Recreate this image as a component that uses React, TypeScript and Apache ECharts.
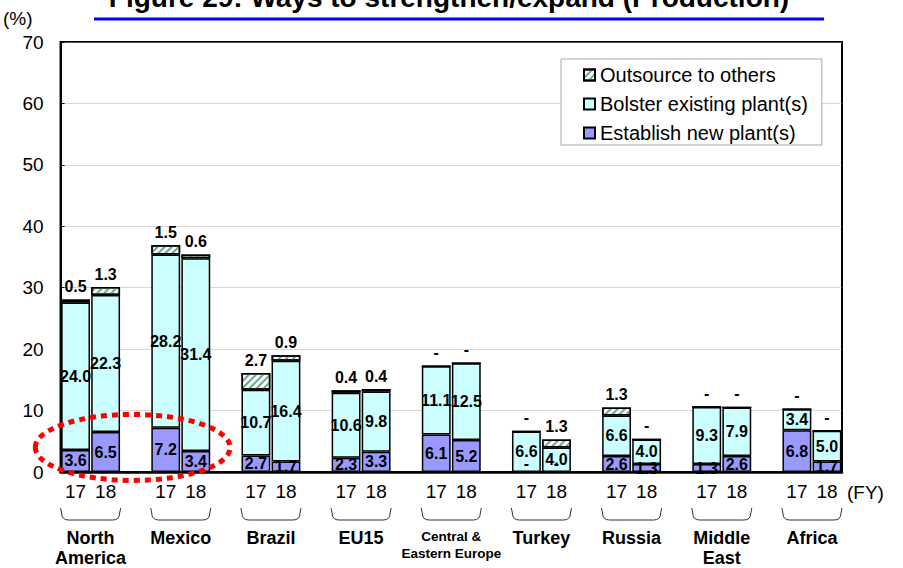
import React, { useEffect, useRef } from "react";
import * as echarts from "echarts";

// Regions (display labels may wrap onto two lines)
const regions = [
  "North America",
  "Mexico",
  "Brazil",
  "EU15",
  "Central & Eastern Europe",
  "Turkey",
  "Russia",
  "Middle East",
  "Africa",
];
const regionLabels = [
  "North\nAmerica",
  "Mexico",
  "Brazil",
  "EU15",
  "Central &\nEastern Europe",
  "Turkey",
  "Russia",
  "Middle\nEast",
  "Africa",
];
const fiscalYears = ["17", "18"];

// Shares (%) by measure, FY17 and FY18
const establish17 = [3.6, 7.2, 2.7, 2.3, 6.1, 0, 2.6, 1.3, 6.8];
const establish18 = [6.5, 3.4, 1.7, 3.3, 5.2, 0, 1.3, 2.6, 1.7];
const bolster17 = [24.0, 28.2, 10.7, 10.6, 11.1, 6.6, 6.6, 9.3, 3.4];
const bolster18 = [22.3, 31.4, 16.4, 9.8, 12.5, 4.0, 4.0, 7.9, 5.0];
const outsource17 = [0.5, 1.5, 2.7, 0.4, 0, 0, 1.3, 0, 0];
const outsource18 = [1.3, 0.6, 0.9, 0.4, 0, 1.3, 0, 0, 0];

const seriesNames = [
  "Establish new plant(s)",
  "Bolster existing plant(s)",
  "Outsource to others",
];

const FONT = "Liberation Sans, Arial, sans-serif";

// Each region takes two bar slots (FY17, FY18) followed by an empty spacer slot
const slotCategories: string[] = [];
regions.forEach((_, i) => {
  slotCategories.push(fiscalYears[0], fiscalYears[1]);
  if (i < regions.length - 1) slotCategories.push("");
});

// Region names sit on slot boundaries (centre of each pair)
const regionAxisData: string[] = [];
for (let j = 0; j <= slotCategories.length; j++) regionAxisData.push("");
regions.forEach((_, i) => {
  regionAxisData[3 * i + 1] = regionLabels[i];
});

function toSlots(v17: number[], v18: number[], zeroPos: string) {
  const out: any[] = [];
  regions.forEach((_, i) => {
    [v17[i], v18[i]].forEach((v) => {
      if (v === 0) {
        out.push({ value: 0, label: { position: "top", distance: zeroPos === "top" ? 5 : 0 } });
      } else {
        out.push(v);
      }
    });
    if (i < regions.length - 1) out.push(null);
  });
  return out;
}

const fmt = (p: any) => (p.value === 0 ? "-" : Number(p.value).toFixed(1));

const barLabel = {
  show: true,
  formatter: fmt,
  color: "#000",
  fontFamily: FONT,
  fontWeight: "bold",
  fontSize: 16,
};

export default function App() {
  const ref = useRef<HTMLDivElement>(null);

  useEffect(() => {
    const Bracket = echarts.graphic.extendShape({
      shape: { x1: 0, x2: 0, y1: 0, y2: 0, r: 7 },
      buildPath(ctx: any, s: any) {
        ctx.moveTo(s.x1 - 1, s.y1);
        ctx.lineTo(s.x1, s.y2 - s.r);
        ctx.quadraticCurveTo(s.x1, s.y2, s.x1 + s.r, s.y2);
        ctx.lineTo(s.x2 - s.r, s.y2);
        ctx.quadraticCurveTo(s.x2, s.y2, s.x2, s.y2 - s.r);
        ctx.lineTo(s.x2 + 1, s.y1);
      },
    });
    echarts.graphic.registerShape("bracket", Bracket);

    const chart = echarts.init(ref.current!, null, { renderer: "svg" });
    const option: any = {
      animation: false,
      textStyle: { fontFamily: FONT },
      grid: {
        left: 59,
        right: 61,
        top: 42,
        bottom: 96,
        show: true,
        borderColor: "#000",
        borderWidth: 2,
      },
      legend: {
        orient: "vertical",
        left: 561,
        top: 59,
        padding: [6, 14, 2, 22],
        itemGap: 9,
        itemWidth: 11,
        itemHeight: 11,
        icon: "rect",
        backgroundColor: "#fff",
        borderColor: "#aaa",
        borderWidth: 1,
        data: [seriesNames[2], seriesNames[1], seriesNames[0]],
        textStyle: { fontSize: 20, color: "#000", fontFamily: FONT },
      },
      xAxis: [
        {
          type: "category",
          data: slotCategories,
          axisLine: { lineStyle: { color: "#000", width: 2.5 } },
          axisTick: { show: false },
          axisLabel: {
            interval: 0,
            margin: 10,
            fontSize: 19,
            color: "#000",
            fontFamily: FONT,
          },
          name: "(FY)",
          nameLocation: "end",
          nameGap: 5,
          nameTextStyle: {
            fontSize: 19,
            color: "#000",
            fontFamily: FONT,
            verticalAlign: "top",
            padding: [11, 0, 0, 0],
          },
        },
        {
          type: "category",
          position: "bottom",
          boundaryGap: false,
          data: regionAxisData,
          axisLine: { show: false },
          axisTick: { show: false },
          splitLine: { show: false },
          axisLabel: {
            interval: 0,
            margin: 56,
            color: "#000",
            fontFamily: FONT,
            formatter: (v: string) => {
              if (!v) return "";
              const tag = v.startsWith("Central") ? "s" : "b";
              return v
                .split("\n")
                .map((l) => `{${tag}|${l}}`)
                .join("\n");
            },
            rich: {
              b: { fontSize: 18, fontWeight: "bold", lineHeight: 20, fontFamily: FONT, color: "#000" },
              s: { fontSize: 13.5, fontWeight: "bold", lineHeight: 17, fontFamily: FONT, color: "#000" },
            },
          },
        },
      ],
      yAxis: {
        type: "value",
        min: 0,
        max: 70,
        interval: 10,
        name: "(%)",
        nameLocation: "end",
        nameGap: 14,
        nameTextStyle: {
          fontSize: 19,
          color: "#000",
          fontFamily: FONT,
          align: "right",
          padding: [0, 28, 0, 0],
        },
        axisLine: { show: true, lineStyle: { color: "#000", width: 2 } },
        axisTick: { show: true, inside: true, length: 4, lineStyle: { color: "#000" } },
        axisLabel: { fontSize: 19, color: "#000", margin: 17, fontFamily: FONT },
        splitLine: { lineStyle: { color: "#b0b0b0", type: "dotted", width: 1 } },
      },
      series: [
        {
          name: seriesNames[0],
          type: "bar",
          stack: "total",
          barCategoryGap: "4%",
          data: toSlots(establish17, establish18, "base"),
          itemStyle: { color: "#9999ff", borderColor: "#000", borderWidth: 1.5 },
          label: { ...barLabel, position: "inside" },
        },
        {
          name: seriesNames[1],
          type: "bar",
          stack: "total",
          data: toSlots(bolster17, bolster18, "base"),
          itemStyle: { color: "#ccffff", borderColor: "#000", borderWidth: 1.5 },
          label: { ...barLabel, position: "inside" },
        },
        {
          name: seriesNames[2],
          type: "bar",
          stack: "total",
          data: toSlots(outsource17, outsource18, "top"),
          itemStyle: {
            color: "#ffffff",
            borderColor: "#000",
            borderWidth: 1.5,
            decal: {
              symbol: "rect",
              symbolSize: 1,
              color: "#6aa888",
              dashArrayX: [1, 0],
              dashArrayY: [1.5, 3],
              rotation: -Math.PI / 4,
            },
          },
          label: { ...barLabel, position: "top", distance: 5 },
        },
      ],
    };
    chart.setOption(option);

    // Annotations placed through the chart's own axes
    const px = (i: number) => chart.convertToPixel({ xAxisIndex: 0 }, i) as number;
    const py = (v: number) => chart.convertToPixel({ yAxisIndex: 0 }, v) as number;
    const catW = px(1) - px(0);

    const graphics: any[] = [
      {
        type: "text",
        style: {
          text: "Figure 29: Ways to strengthen/expand (Production)",
          x: 449,
          y: 11,
          align: "center",
          verticalAlign: "bottom",
          font: `bold 28px ${FONT}`,
          fill: "#000",
        },
      },
      {
        type: "line",
        shape: { x1: 94, y1: 19, x2: 824, y2: 19 },
        style: { stroke: "#0000ff", lineWidth: 3 },
      },
    ];
    regions.forEach((_, i) => {
      const a = px(3 * i) - catW / 2;
      const b = px(3 * i + 1) + catW / 2;
      graphics.push({
        type: "bracket",
        shape: { x1: a + 1, x2: b - 1, y1: 508, y2: 520, r: 7 },
        style: { stroke: "#333", fill: null, lineWidth: 1 },
      });
    });
    graphics.push({
      type: "ellipse",
      shape: { cx: px(2) - 0.1 * catW, cy: py(4), rx: 3.24 * catW, ry: 33 },
      style: { stroke: "#ff0000", fill: null, lineWidth: 5, lineDash: [6, 5] },
      z: 100,
    });
    chart.setOption({ graphic: graphics });

    return () => chart.dispose();
  }, []);

  return (
    <div
      ref={ref}
      style={{ position: "fixed", left: 0, top: 0, width: 903, height: 568, background: "#fff" }}
    />
  );
}
